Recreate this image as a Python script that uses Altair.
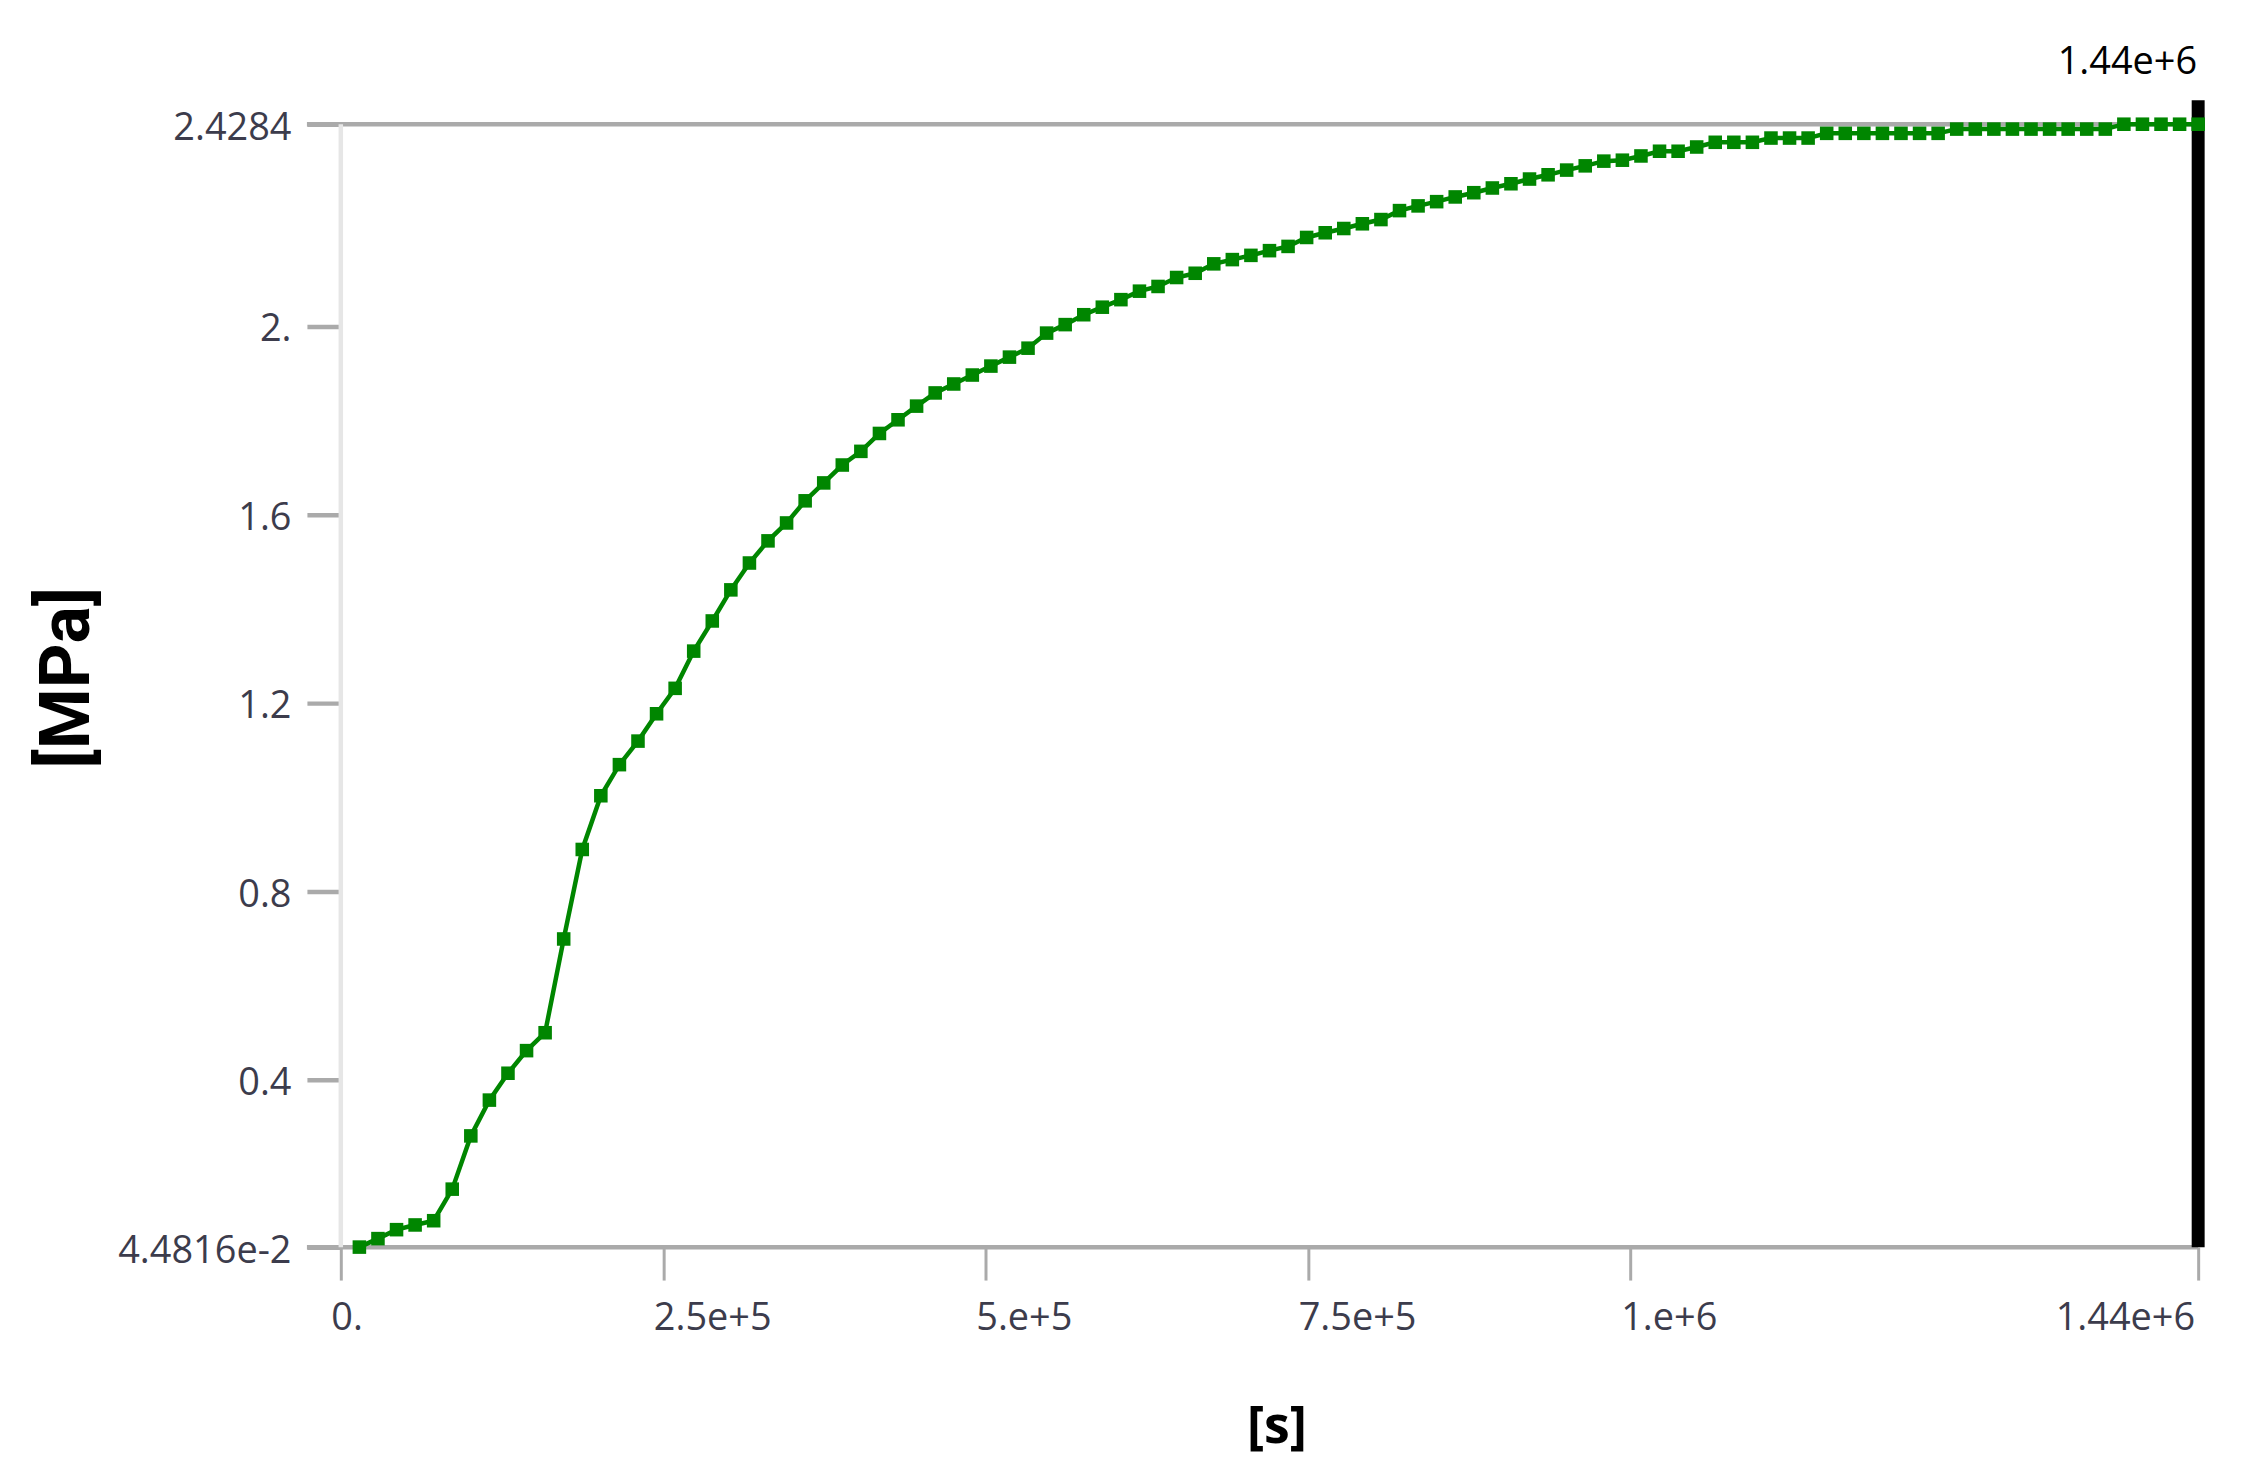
import altair as alt
import pandas as pd

# ---- data ----
time_s = [
    14400, 28800, 43200, 57600, 72000, 86400, 100800, 115200, 129600, 144000,
    158400, 172800, 187200, 201600, 216000, 230400, 244800, 259200, 273600, 288000,
    302400, 316800, 331200, 345600, 360000, 374400, 388800, 403200, 417600, 432000,
    446400, 460800, 475200, 489600, 504000, 518400, 532800, 547200, 561600, 576000,
    590400, 604800, 619200, 633600, 648000, 662400, 676800, 691200, 705600, 720000,
    734400, 748800, 763200, 777600, 792000, 806400, 820800, 835200, 849600, 864000,
    878400, 892800, 907200, 921600, 936000, 950400, 964800, 979200, 993600, 1008000,
    1022400, 1036800, 1051200, 1065600, 1080000, 1094400, 1108800, 1123200, 1137600, 1152000,
    1166400, 1180800, 1195200, 1209600, 1224000, 1238400, 1252800, 1267200, 1281600, 1296000,
    1310400, 1324800, 1339200, 1353600, 1368000, 1382400, 1396800, 1411200, 1425600, 1440000,
]
stress_mpa = [
    0.045, 0.063, 0.082, 0.092, 0.101, 0.168, 0.281, 0.357, 0.414, 0.462,
    0.500, 0.699, 0.889, 1.003, 1.069, 1.119, 1.177, 1.231, 1.310, 1.374,
    1.440, 1.497, 1.544, 1.582, 1.629, 1.667, 1.705, 1.734, 1.772, 1.801,
    1.830, 1.858, 1.877, 1.896, 1.915, 1.934, 1.953, 1.985, 2.003, 2.024,
    2.040, 2.056, 2.074, 2.084, 2.103, 2.112, 2.132, 2.141, 2.150, 2.160,
    2.169, 2.188, 2.198, 2.207, 2.217, 2.226, 2.245, 2.255, 2.264, 2.274,
    2.283, 2.293, 2.302, 2.312, 2.321, 2.331, 2.340, 2.350, 2.352, 2.361,
    2.371, 2.371, 2.380, 2.390, 2.390, 2.390, 2.399, 2.399, 2.399, 2.409,
    2.409, 2.409, 2.409, 2.409, 2.409, 2.409, 2.418, 2.418, 2.418, 2.418,
    2.418, 2.418, 2.418, 2.418, 2.418, 2.4284, 2.4284, 2.4284, 2.4284, 2.4284,
]

x_tick_values = [0, 250000, 500000, 750000, 1000000, 1440000]
x_tick_labels = ["0.", "2.5e+5", "5.e+5", "7.5e+5", "1.e+6", "1.44e+6"]
y_tick_values = [0.044816, 0.4, 0.8, 1.2, 1.6, 2.0, 2.4284]
y_tick_labels = ["4.4816e-2", "0.4", "0.8", "1.2", "1.6", "2.", "2.4284"]

x_domain = [0, 1440000]
y_domain = [0.044816, 2.4284]

probe_time = [1440000]
probe_label = ["1.44e+6"]

x_title = "[s]"
y_title = "[MPa]"

# ---- styling ----
W, H = 1864, 1127
GREEN = "#008600"
GRAY = "#aaaaaa"
LIGHT = "#e6e6e6"
LABEL = "#3c3c4c"


def label_expr(vals, labels):
    expr = "''"
    for v, lab in reversed(list(zip(vals, labels))):
        expr = f"datum.value == {v} ? '{lab}' : ({expr})"
    return expr


xs = alt.Scale(domain=x_domain, nice=False, zero=False)
ys = alt.Scale(domain=y_domain, nice=False, zero=False)

# all x labels except the last one are left-aligned by the axis;
# the last one (right-aligned at the end tick) is drawn as a text mark below
x_axis_labels = x_tick_labels[:-1] + [""]

x_axis = alt.Axis(
    values=x_tick_values,
    labelExpr=label_expr(x_tick_values, x_axis_labels),
    title=x_title,
    grid=False,
    domain=False,
    tickColor=GRAY,
    tickWidth=3,
    tickSize=33,
    labelFont="Open Sans",
    labelFontSize=38,
    labelColor=LABEL,
    labelFlush=False,
    labelOverlap=False,
    labelAlign="left",
    labelOffset=-10,
    labelBaseline="top",
    labelPadding=20,
    titleFont="Open Sans",
    titleFontSize=52,
    titleFontWeight="bold",
    titleColor="black",
    titleX=939,
    titleY=180,
    titleAlign="center",
    titleBaseline="middle",
)

y_axis = alt.Axis(
    values=y_tick_values,
    labelExpr=label_expr(y_tick_values, y_tick_labels),
    title=y_title,
    grid=False,
    domain=False,
    tickColor=GRAY,
    tickWidth=4.5,
    tickSize=34,
    labelFont="Open Sans",
    labelFontSize=38,
    labelColor=LABEL,
    labelOverlap=False,
    labelFlush=False,
    labelPadding=16,
    labelOffset=4,
    titleFont="Roboto",
    titleFontSize=70,
    titleFontWeight="bold",
    titleColor="black",
    titleX=-274,
    titleY=555,
    titleAlign="center",
    titleBaseline="middle",
)

one = pd.DataFrame({"a": [0]})

top_line = alt.Chart(one).mark_rule(color=GRAY, strokeWidth=4.5).encode(
    x=alt.value(-34), x2=alt.value(W), y=alt.value(0)
)
bottom_line = alt.Chart(one).mark_rule(color=GRAY, strokeWidth=4.5).encode(
    x=alt.value(-34), x2=alt.value(W), y=alt.value(H)
)
left_line = alt.Chart(one).mark_rule(color=LIGHT, strokeWidth=4.5).encode(
    x=alt.value(0), y=alt.value(0), y2=alt.value(H)
)

probe_df = pd.DataFrame({"t": probe_time, "label": probe_label})
probe_rule = alt.Chart(probe_df).mark_rule(color="black", strokeWidth=13).encode(
    x=alt.X("t:Q", scale=xs, axis=x_axis), y=alt.value(-24), y2=alt.value(H)
)
probe_text = alt.Chart(probe_df).mark_text(
    align="right", baseline="middle", font="Open Sans", fontSize=38, color="black", dx=-1
).encode(x=alt.X("t:Q", scale=xs, axis=x_axis), y=alt.value(-61), text="label:N")

end_df = pd.DataFrame({"t": x_tick_values[-1:], "label": x_tick_labels[-1:]})
end_label = alt.Chart(end_df).mark_text(
    align="right", baseline="top", font="Open Sans", fontSize=38, color=LABEL, dx=-3
).encode(x=alt.X("t:Q", scale=xs, axis=x_axis), y=alt.value(H + 53), text="label:N")

df = pd.DataFrame({"t": time_s, "s": stress_mpa})
line = alt.Chart(df).mark_line(
    color=GREEN,
    strokeWidth=4.5,
    point=alt.OverlayMarkDef(shape="square", size=185, filled=True, color=GREEN, opacity=1),
).encode(
    x=alt.X("t:Q", scale=xs, axis=x_axis),
    y=alt.Y("s:Q", scale=ys, axis=y_axis),
)

chart = (
    alt.layer(top_line, bottom_line, left_line, probe_rule, probe_text, end_label, line)
    .properties(
        width=W,
        height=H,
        autosize=alt.AutoSizeParams(type="none"),
        padding={"left": 334, "top": 114, "right": 47, "bottom": 222},
        background="white",
    )
    .configure_view(stroke=None)
)

chart.save("out.html", embed_options={"renderer": "svg", "actions": False})
